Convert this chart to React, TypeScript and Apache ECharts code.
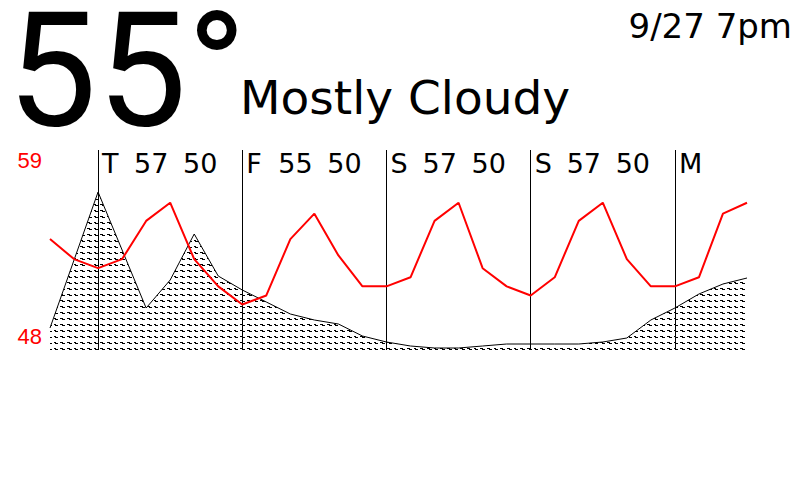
import { useEffect, useRef } from 'react';
import * as echarts from 'echarts';

// 4-hourly forecast slots
const timeSlots = [
  'Wed 4pm', 'Wed 8pm',
  'Thu 12am', 'Thu 4am', 'Thu 8am', 'Thu 12pm', 'Thu 4pm', 'Thu 8pm',
  'Fri 12am', 'Fri 4am', 'Fri 8am', 'Fri 12pm', 'Fri 4pm', 'Fri 8pm',
  'Sat 12am', 'Sat 4am', 'Sat 8am', 'Sat 12pm', 'Sat 4pm', 'Sat 8pm',
  'Sun 12am', 'Sun 4am', 'Sun 8am', 'Sun 12pm', 'Sun 4pm', 'Sun 8pm',
  'Mon 12am', 'Mon 4am', 'Mon 8am', 'Mon 12pm',
];

// temperature (°F)
const temperature = [
  54.1, 53.0, 52.5, 53.0, 55.1, 56.1, 53.0, 51.5,
  50.5, 51.0, 54.1, 55.5, 53.2, 51.5,
  51.5, 52.0, 55.1, 56.1, 52.5, 51.5,
  51.0, 52.0, 55.1, 56.1, 53.0, 51.5,
  51.5, 52.0, 55.5, 56.1,
];

// cloud / precipitation (%), hatched area
const cloudCover = [
  11, 45, 79, 50, 21, 35, 58, 37,
  30, 24, 18, 15, 13, 7,
  4, 2, 1, 1, 2, 3,
  3, 3, 3, 4, 6, 15,
  21, 28, 33, 36,
];

const dayLetters = ['T', 'F', 'S', 'S', 'M'];
const dayHighs = [57, 55, 57, 57, null];
const dayLows = [50, 50, 50, 50, null];
const tempTicks = [48, 59];

const currentTemp = '55°';
const condition = 'Mostly Cloudy';
const stamp = '9/27 7pm';

const hatchSvg =
  "<svg xmlns='http://www.w3.org/2000/svg' width='20' height='6' shape-rendering='crispEdges'>" +
  "<g fill='black'>" +
  "<rect x='0' y='0' width='3' height='1'/><rect x='2' y='1' width='3' height='1'/>" +
  "<rect x='7' y='0' width='3' height='1'/><rect x='9' y='1' width='3' height='1'/>" +
  "<rect x='14' y='0' width='2' height='1'/><rect x='15' y='1' width='3' height='1'/>" +
  '</g></svg>';
const hatchUrl = 'data:image/svg+xml;utf8,' + encodeURIComponent(hatchSvg);

const dayFont = 'DejaVu Sans';
const tickFont = 'Liberation Sans';

export default function App() {
  const ref = useRef<HTMLDivElement>(null);

  useEffect(() => {
    const chart = echarts.init(ref.current!, null, { renderer: 'svg' });
    const isDayStart = (i: number) => i % 6 === 2;

    const option: any = {
      animation: false,
      backgroundColor: '#ffffff',
      grid: {
        left: 50,
        right: 53,
        top: 150,
        bottom: 130,
        containLabel: false,
        outerBoundsMode: 'none',
      },
      xAxis: {
        type: 'category',
        data: timeSlots,
        boundaryGap: false,
        position: 'top',
        axisLine: { show: false },
        axisTick: { show: false },
        axisLabel: {
          inside: true,
          interval: (i: number) => isDayStart(i),
          margin: 0,
          align: 'left',
          verticalAlign: 'top',
          padding: [0, 0, 0, 4],
          formatter: (_v: string, i: number) => {
            const k = (i - 2) / 6;
            const d = dayLetters[k];
            if (d == null) return '';
            const hi = dayHighs[k];
            const lo = dayLows[k];
            if (hi == null) return `{d|${d}}`;
            return `{d|${d}}{h|${hi}}{l|${lo}}`;
          },
          rich: {
            d: { width: 32, fontSize: 27, fontFamily: dayFont, color: '#000' },
            h: { width: 49, fontSize: 27, fontFamily: dayFont, color: '#000' },
            l: { fontSize: 27, fontFamily: dayFont, color: '#000' },
          },
        },
        splitLine: {
          show: true,
          interval: (i: number) => isDayStart(i),
          lineStyle: { color: '#000', width: 1 },
        },
      },
      yAxis: [
        {
          type: 'value',
          min: tempTicks[0],
          max: tempTicks[1],
          interval: tempTicks[1] - tempTicks[0],
          axisLine: { show: false },
          axisTick: { show: false },
          splitLine: { show: false },
          axisLabel: {
            margin: 8,
            formatter: (v: number) =>
              v === tempTicks[1] ? `{top|${v}}` : v === tempTicks[0] ? `{bot|${v}}` : '',
            rich: {
              top: { padding: [21, 0, 0, 0], fontSize: 22, fontFamily: tickFont, color: '#ff0000' },
              bot: { padding: [0, 0, 27, 0], fontSize: 22, fontFamily: tickFont, color: '#ff0000' },
            },
          },
        },
        {
          type: 'value',
          min: 0,
          max: 100,
          show: false,
          splitLine: { show: false },
        },
      ],
      series: [
        {
          type: 'line',
          yAxisIndex: 1,
          data: cloudCover,
          showSymbol: false,
          symbol: 'none',
          lineStyle: { color: '#000', width: 1 },
          itemStyle: { color: '#000' },
          areaStyle: {
            color: { image: hatchUrl, repeat: 'repeat', imageWidth: 20, imageHeight: 6 },
            opacity: 1,
          },
          z: 1,
        },
        {
          type: 'line',
          yAxisIndex: 0,
          data: temperature,
          showSymbol: false,
          symbol: 'none',
          lineStyle: { color: '#ff0000', width: 2 },
          itemStyle: { color: '#ff0000' },
          z: 3,
        },
      ],
      graphic: [
        {
          type: 'text',
          x: 7,
          y: 70,
          style: {
            text: currentTemp,
            fontSize: 160,
            lineHeight: 114,
            fontFamily: 'Roboto',
            fill: '#000',
            align: 'left',
            verticalAlign: 'middle',
            textAlign: 'left',
            textVerticalAlign: 'middle',
          },
        },
        {
          type: 'text',
          x: 240,
          y: 97,
          style: {
            text: condition,
            fontSize: 47,
            lineHeight: 50,
            fontFamily: 'DejaVu Sans',
            fill: '#000',
            align: 'left',
            verticalAlign: 'middle',
            textAlign: 'left',
            textVerticalAlign: 'middle',
          },
        },
        {
          type: 'text',
          x: 792,
          y: 26,
          style: {
            text: stamp,
            fontSize: 34,
            lineHeight: 36,
            fontFamily: 'DejaVu Sans',
            fill: '#000',
            align: 'right',
            verticalAlign: 'middle',
            textAlign: 'right',
            textVerticalAlign: 'middle',
          },
        },
      ],
    };

    chart.setOption(option);
    return () => chart.dispose();
  }, []);

  return (
    <div
      ref={ref}
      style={{ position: 'fixed', left: 0, top: 0, width: 800, height: 480, background: '#fff' }}
    />
  );
}
